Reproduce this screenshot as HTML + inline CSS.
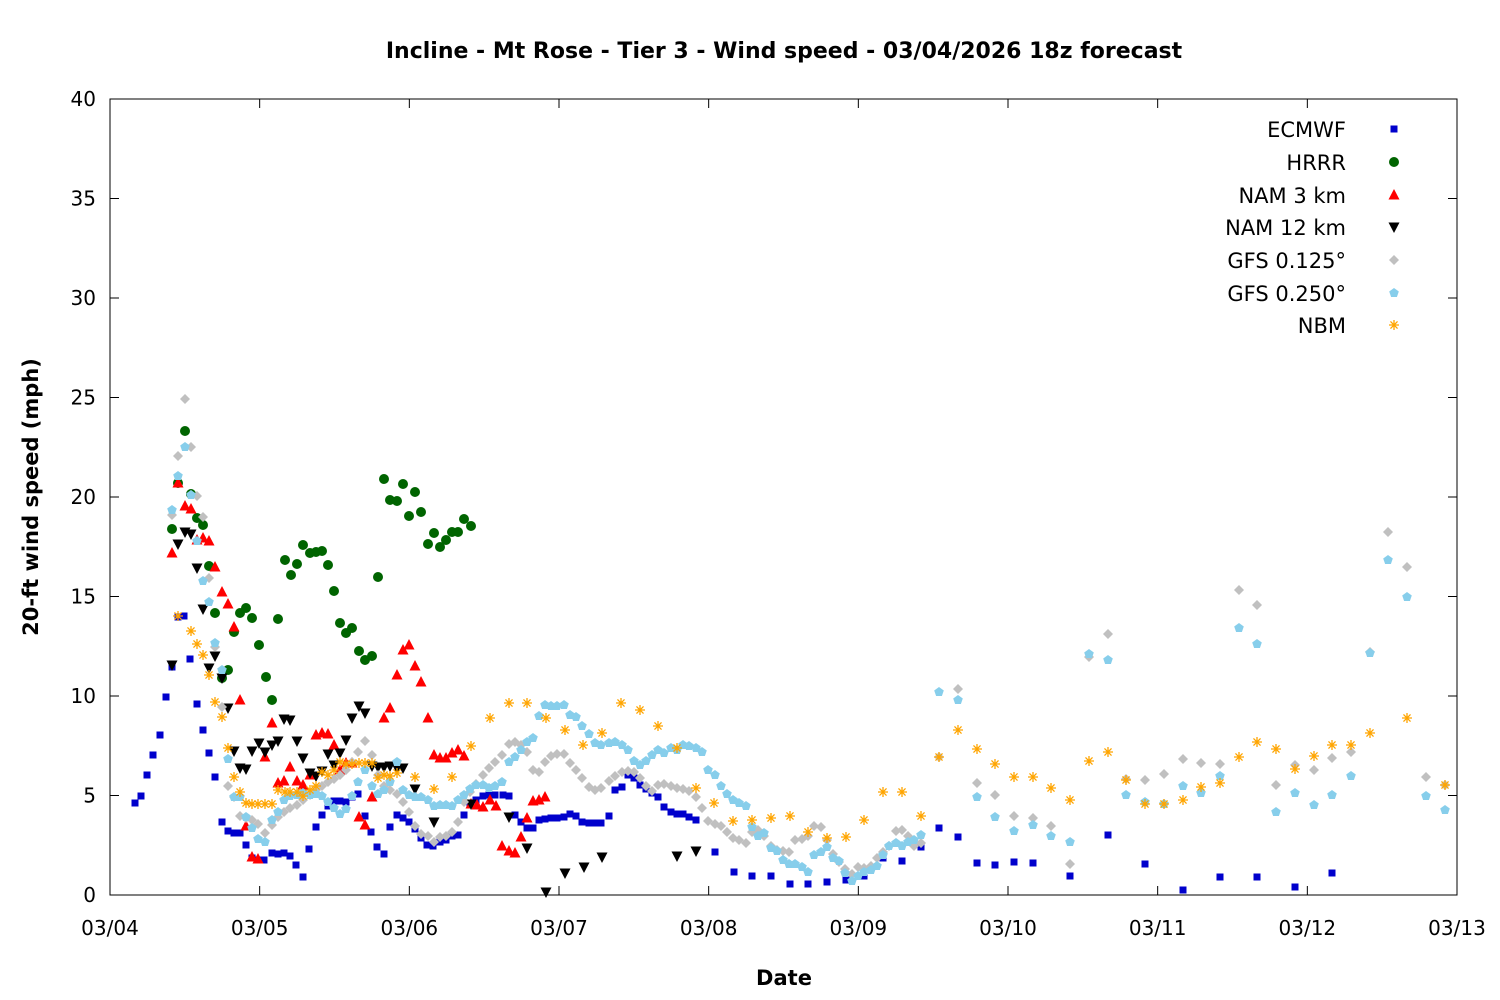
<!DOCTYPE html>
<html><head><meta charset="utf-8"><style>
body{margin:0;background:#fff}
svg{display:block}
text{font-family:"DejaVu Sans","Liberation Sans",sans-serif;fill:#000}
</style></head><body>
<svg id="s" width="1500" height="1000" viewBox="0 0 1500 1000" xmlns="http://www.w3.org/2000/svg">
<rect width="1500" height="1000" fill="#fff"/>
<text x="784" y="58" font-size="22" font-weight="bold" text-anchor="middle">Incline - Mt Rose - Tier 3 - Wind speed - 03/04/2026 18z forecast</text>
<text x="784" y="985" font-size="21" font-weight="bold" text-anchor="middle">Date</text>
<text transform="translate(38,497) rotate(-90)" font-size="21" font-weight="bold" text-anchor="middle">20-ft wind speed (mph)</text>
<g id="axes"></g>
<g id="pts"></g>
<g id="leg" font-size="21" text-anchor="end">
<text x="1346" y="137">ECMWF</text>
<text x="1346" y="170">HRRR</text>
<text x="1346" y="203">NAM 3 km</text>
<text x="1346" y="235">NAM 12 km</text>
<text x="1346" y="268">GFS 0.125°</text>
<text x="1346" y="301">GFS 0.250°</text>
<text x="1346" y="333">NBM</text>
</g>
</svg>
<script>
var NS="http://www.w3.org/2000/svg";
function el(p,t,a){var e=document.createElementNS(NS,t);for(var k in a)e.setAttribute(k,a[k]);p.appendChild(e);return e;}
var ax=document.getElementById("axes");
var X0=110,X1=1457,Y0=895,Y1=99;
for(var v=0;v<=40;v+=5){var y=Y0-(Y0-Y1)*v/40;
 el(ax,"line",{x1:X0,x2:X0+9,y1:y,y2:y,stroke:"#000"});
 el(ax,"line",{x1:X1-9,x2:X1,y1:y,y2:y,stroke:"#000"});
 var t=el(ax,"text",{x:96,y:y+7,"font-size":20,"text-anchor":"end"});t.textContent=v;}
var days=["03/04","03/05","03/06","03/07","03/08","03/09","03/10","03/11","03/12","03/13"];
for(var i=0;i<10;i++){var x=X0+(X1-X0)*i/9;
 el(ax,"line",{x1:x,x2:x,y1:Y0,y2:Y0-9,stroke:"#000"});
 el(ax,"line",{x1:x,x2:x,y1:Y1,y2:Y1+9,stroke:"#000"});
 var t=el(ax,"text",{x:x,y:935,"font-size":20,"text-anchor":"middle"});t.textContent=days[i];}
el(ax,"rect",{x:X0,y:Y1,width:X1-X0,height:Y0-Y1,fill:"none",stroke:"#000","stroke-width":1});
function P(s){var a=s.split(/[(),\s]+/).filter(Boolean).map(Number),r=[];for(var i=0;i<a.length;i+=2)r.push([a[i],a[i+1]]);return r;}
var g=document.getElementById("pts");
function sq(x,y,c){el(g,"rect",{x:x-3.5,y:y-3.5,width:7,height:7,fill:c});}
function ci(x,y,c){el(g,"circle",{cx:x,cy:y,r:5,fill:c});}
function tu(x,y,c){el(g,"polygon",{points:(x)+","+(y-6)+" "+(x-5.5)+","+(y+4.5)+" "+(x+5.5)+","+(y+4.5),fill:c});}
function td(x,y,c){el(g,"polygon",{points:(x)+","+(y+6)+" "+(x-5.5)+","+(y-4.5)+" "+(x+5.5)+","+(y-4.5),fill:c});}
function di(x,y,c){el(g,"polygon",{points:x+","+(y-5)+" "+(x+5)+","+y+" "+x+","+(y+5)+" "+(x-5)+","+y,fill:c});}
function pe(x,y,c){var p=[];for(var k=0;k<5;k++){var a=-Math.PI/2+k*2*Math.PI/5;p.push((x+5*Math.cos(a)).toFixed(1)+","+(y+5*Math.sin(a)).toFixed(1));}el(g,"polygon",{points:p.join(" "),fill:c});}
function as(x,y,c){var d="";for(var k=0;k<4;k++){var a=k*Math.PI/4;d+="M"+(x-5*Math.cos(a))+","+(y-5*Math.sin(a))+"L"+(x+5*Math.cos(a))+","+(y+5*Math.sin(a));}el(g,"path",{d:d,stroke:c,"stroke-width":1.3,fill:"none"});}
var S=[
[sq,"#0000cc","(135,803),(141,796),(147,775),(153,755),(160,735),(166,697),(172,667),(178,617),(184,616),(190,659),(197,704),(203,730),(209,753),(215,777),(222,822),(228,831),(234,833),(240,833),(246,845),(252,858),(258,860),(264,860),(272,853),(278,854),(284,853),(290,856),(296,865),(303,877),(309,849),(316,827),(322,815),(328,806),(334,801),(340,801),(346,802),(352,797),(358,794),(365,816),(371,832),(377,847),(384,854),(390,827),(397,815),(403,818),(409,822),(415,829),(421,838),(427,845),(433,846),(440,842),(446,840),(452,836),(458,835),(464,815),(470,805),(476,800),(483,796),(489,795),(495,795),(503,795),(509,796),(515,815),(521,822),(527,828),(533,828),(539,820),(545,819),(551,818),(557,818),(564,817),(570,814),(576,816),(582,822),(589,823),(595,823),(601,823),(609,816),(615,790),(622,787),(628,775),(634,778),(640,785),(646,789),(652,793),(658,797),(664,807),(671,812),(677,814),(683,814),(689,817),(696,820),(715,852),(734,872),(752,876),(771,876),(790,884),(808,884),(827,882),(846,880),(864,876),(883,858),(902,861),(921,847),(939,828),(958,837),(977,863),(995,865),(1014,862),(1033,863),(1070,876),(1108,835),(1145,864),(1183,890),(1220,877),(1257,877),(1295,887),(1332,873)"],
[ci,"#006400","(172,529),(178,483),(185,431),(191,494),(197,518),(203,525),(209,566),(215,613),(222,678),(228,670),(234,632),(240,613),(246,608),(252,618),(259,645),(266,677),(272,700),(278,619),(285,560),(291,575),(297,564),(303,545),(310,553),(316,552),(322,551),(328,565),(334,591),(340,623),(346,633),(352,628),(359,651),(365,660),(372,656),(378,577),(384,479),(390,500),(397,501),(403,484),(409,516),(415,492),(421,512),(428,544),(434,533),(440,547),(446,540),(452,532),(458,532),(464,519),(471,526)"],
[tu,"#ff0000","(172,553),(178,483),(185,506),(191,509),(197,540),(203,538),(209,541),(215,567),(222,592),(228,604),(234,627),(240,700),(246,826),(252,857),(258,859),(265,757),(272,723),(278,783),(284,781),(290,767),(297,781),(303,785),(310,775),(316,735),(322,733),(328,734),(334,745),(340,770),(346,763),(352,763),(359,817),(365,825),(372,797),(384,718),(390,708),(397,675),(403,650),(409,645),(415,666),(421,682),(428,718),(434,755),(440,758),(446,758),(452,753),(458,750),(464,756),(471,804),(477,805),(483,807),(490,800),(496,806),(502,846),(509,851),(515,853),(521,837),(527,818),(533,801),(539,800),(545,797)"],
[td,"#000000","(172,665),(178,544),(185,532),(191,534),(197,568),(203,609),(209,668),(215,656),(222,678),(228,708),(234,751),(240,768),(246,769),(252,751),(259,743),(265,752),(272,745),(278,741),(284,719),(290,720),(297,741),(303,758),(310,773),(316,776),(322,771),(328,754),(334,765),(340,753),(346,740),(352,718),(359,706),(365,713),(372,766),(378,767),(384,767),(390,766),(397,768),(403,768),(415,789),(434,822),(471,804),(509,817),(527,848),(546,892),(565,873),(584,867),(602,857),(677,856),(696,851)"],
[di,"#c0c0c0","(172,515),(178,456),(185,399),(191,447),(197,496),(203,517),(209,578),(215,647),(222,707),(228,786),(234,797),(240,816),(246,818),(252,820),(258,824),(265,833),(272,825),(278,817),(284,812),(290,808),(297,805),(303,800),(310,795),(316,790),(322,786),(328,782),(334,779),(340,775),(346,770),(352,762),(358,752),(365,741),(372,755),(378,775),(384,786),(390,790),(397,794),(403,802),(409,812),(415,826),(421,834),(428,836),(434,842),(440,837),(446,836),(452,832),(458,822),(464,802),(470,792),(476,784),(483,775),(489,768),(495,762),(502,755),(509,744),(515,742),(521,745),(527,752),(533,770),(539,772),(545,762),(551,756),(557,754),(564,754),(570,763),(576,770),(582,778),(589,787),(595,790),(601,788),(609,781),(615,776),(622,772),(628,771),(634,772),(640,778),(646,786),(652,791),(658,785),(664,784),(671,786),(677,788),(683,789),(689,791),(696,797),(702,808),(708,821),(715,824),(721,826),(727,832),(733,838),(739,840),(746,843),(752,832),(758,830),(764,836),(771,846),(777,850),(783,851),(789,852),(795,840),(802,839),(808,836),(814,826),(821,827),(827,840),(833,854),(839,862),(845,869),(852,874),(858,867),(864,868),(871,866),(877,858),(883,852),(889,846),(896,831),(902,830),(908,836),(914,846),(921,843),(939,757),(958,689),(977,783),(995,795),(1014,816),(1033,818),(1051,826),(1070,864),(1089,657),(1108,634),(1126,779),(1145,780),(1164,774),(1183,759),(1201,763),(1220,764),(1239,590),(1257,605),(1276,785),(1295,765),(1314,770),(1332,758),(1351,752),(1370,652),(1388,532),(1407,567),(1426,777),(1445,785)"],
[pe,"#87ceeb","(172,510),(178,476),(185,447),(191,495),(197,541),(203,581),(209,602),(215,643),(222,670),(228,759),(234,797),(240,797),(246,817),(252,828),(258,839),(265,842),(272,820),(278,812),(284,800),(290,796),(297,795),(303,793),(310,795),(316,794),(322,796),(328,802),(334,808),(340,814),(346,809),(352,796),(358,782),(365,770),(372,786),(378,794),(384,790),(390,782),(397,762),(403,790),(409,795),(415,797),(421,797),(428,800),(434,806),(440,805),(446,805),(452,806),(458,800),(464,795),(470,789),(476,785),(483,785),(489,788),(495,786),(502,782),(509,762),(515,757),(521,750),(527,742),(533,738),(539,716),(545,705),(551,706),(557,706),(564,705),(570,715),(576,717),(582,726),(589,734),(595,743),(601,745),(609,743),(615,742),(622,745),(628,750),(634,761),(640,765),(646,761),(652,755),(658,750),(664,753),(671,748),(677,750),(683,745),(689,746),(696,748),(702,752),(708,770),(715,775),(721,786),(727,794),(733,800),(739,803),(746,806),(752,827),(758,836),(764,833),(771,848),(777,851),(783,860),(789,864),(795,864),(802,867),(808,872),(814,855),(821,852),(827,847),(833,858),(839,861),(845,873),(852,881),(858,876),(864,872),(871,870),(877,866),(883,855),(889,846),(896,843),(902,846),(908,842),(914,840),(921,835),(939,692),(958,700),(977,797),(995,817),(1014,831),(1033,825),(1051,836),(1070,842),(1089,654),(1108,660),(1126,795),(1145,802),(1164,804),(1183,786),(1201,793),(1220,776),(1239,628),(1257,644),(1276,812),(1295,793),(1314,805),(1332,795),(1351,776),(1370,653),(1388,560),(1407,597),(1426,796),(1445,810)"],
[as,"#ffa500","(178,616),(191,631),(197,644),(203,655),(209,675),(215,702),(222,717),(228,748),(234,777),(240,792),(246,803),(252,804),(258,804),(265,804),(272,804),(278,790),(285,792),(290,792),(297,792),(303,796),(310,790),(316,786),(322,772),(328,775),(334,770),(340,762),(346,764),(352,764),(359,763),(365,763),(372,763),(378,778),(384,775),(390,776),(397,773),(415,777),(434,789),(452,777),(471,746),(490,718),(509,703),(527,703),(546,718),(565,730),(583,745),(602,733),(621,703),(640,710),(658,726),(677,748),(696,788),(714,803),(733,821),(752,820),(771,818),(790,816),(808,832),(827,838),(846,837),(864,820),(883,792),(902,792),(921,816),(939,757),(958,730),(977,749),(995,764),(1014,777),(1033,777),(1051,788),(1070,800),(1089,761),(1108,752),(1126,780),(1145,804),(1164,804),(1183,800),(1201,787),(1220,783),(1239,757),(1257,742),(1276,749),(1295,769),(1314,756),(1332,745),(1351,745),(1370,733),(1407,718),(1445,785)"]
];
var ly=[129,162,195,227,260,293,325];
S.forEach(function(s,i){P(s[2]).forEach(function(p){s[0](p[0],p[1],s[1]);});s[0](1394,ly[i],s[1]);});
</script>
</body></html>
